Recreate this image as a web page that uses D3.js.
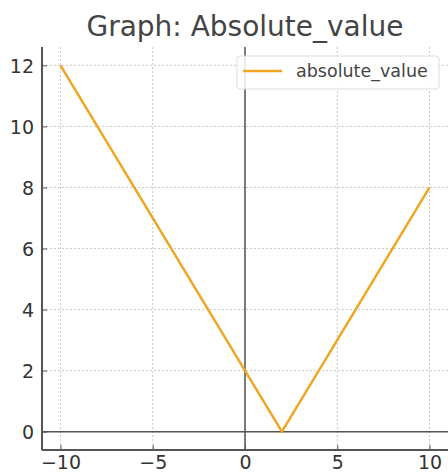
<!DOCTYPE html>
<html><head><meta charset="utf-8">
<script src="https://cdn.jsdelivr.net/npm/d3@7"></script>
<style>body{margin:0;background:#fff}svg{display:block}text{font-family:"DejaVu Sans",sans-serif}</style>
</head><body>
<svg id="c" width="448" height="476"></svg>
<script>
const xValues = [-10, 2, 10];
const yValues = [12, 0, 8];
const xTicks = [-10, -5, 0, 5, 10];
const yTicks = [0, 2, 4, 6, 8, 10, 12];
const seriesName = "absolute_value";
const title = "Graph: Absolute_value";

const svg = d3.select("#c");
const L = 42, R = 448, T = 47, B = 450;
const x = d3.scaleLinear().domain([-11, 11]).range([L, R]);
const y = d3.scaleLinear().domain([-0.6, 12.6]).range([B, T]);

// grid
const g = svg.append("g");
g.selectAll("line.gx").data(xTicks).join("line")
  .attr("x1", d => x(d)).attr("x2", d => x(d)).attr("y1", T).attr("y2", B)
  .attr("stroke", "#c8c8c8").attr("stroke-width", 1).attr("stroke-dasharray", "2,2");
g.selectAll("line.gy").data(yTicks).join("line")
  .attr("y1", d => y(d)).attr("y2", d => y(d)).attr("x1", L).attr("x2", R)
  .attr("stroke", "#c8c8c8").attr("stroke-width", 1).attr("stroke-dasharray", "2,2");

// zero lines
svg.append("line").attr("x1", L).attr("x2", R).attr("y1", y(0)).attr("y2", y(0))
  .attr("stroke", "#555").attr("stroke-width", 1.5);
svg.append("line").attr("x1", x(0)).attr("x2", x(0)).attr("y1", T).attr("y2", B)
  .attr("stroke", "#555").attr("stroke-width", 1.5);

// axes
const xAxis = d3.axisBottom(x).tickValues(xTicks).tickSizeInner(-5).tickSizeOuter(0)
  .tickPadding(5).tickFormat(d => d < 0 ? "\u2212" + Math.abs(d) : d);
const gx = svg.append("g").attr("transform", `translate(0,${B})`).call(xAxis);
const yAxis = d3.axisLeft(y).tickValues(yTicks).tickSizeInner(-5).tickSizeOuter(0).tickPadding(10);
const gy = svg.append("g").attr("transform", `translate(${L},0)`).call(yAxis);
[gx, gy].forEach(a => {
  a.select(".domain").attr("stroke", "#555").attr("stroke-width", 2);
  a.selectAll(".tick line").attr("stroke", "#555").attr("stroke-width", 1);
  a.selectAll(".tick text").attr("fill", "#333").style("font-size", "19px").style("font-family", "DejaVu Sans");
});
gx.selectAll(".tick text").attr("dy", "0.74em");
gy.selectAll(".tick text").attr("dy", "0.36em").attr("x", -8);
// extend spines
gx.select(".domain").attr("d", `M${L},0H${R}`);
gy.select(".domain").attr("d", `M0,${T}V${B}`);

// line
const line = d3.line().x((d, i) => x(xValues[i])).y((d, i) => y(yValues[i]));
svg.append("path").datum(yValues).attr("d", line).attr("fill", "none")
  .attr("stroke", "#f0a624").attr("stroke-width", 2.5).attr("stroke-linejoin", "miter");

// legend
const lg = svg.append("g");
lg.append("rect").attr("x", 237).attr("y", 56).attr("width", 202).attr("height", 33)
  .attr("rx", 3).attr("fill", "#fff").attr("fill-opacity", 0.85).attr("stroke", "#ddd");
lg.append("line").attr("x1", 243).attr("x2", 282).attr("y1", 71).attr("y2", 71)
  .attr("stroke", "#f0a624").attr("stroke-width", 2.5);
lg.append("text").attr("x", 296).attr("y", 77).text(seriesName)
  .attr("fill", "#444").style("font-size", "17.5px");

// title
svg.append("text").attr("x", 245).attr("y", 36).attr("text-anchor", "middle")
  .text(title).attr("fill", "#444").style("font-size", "28px");
</script>
</body></html>
